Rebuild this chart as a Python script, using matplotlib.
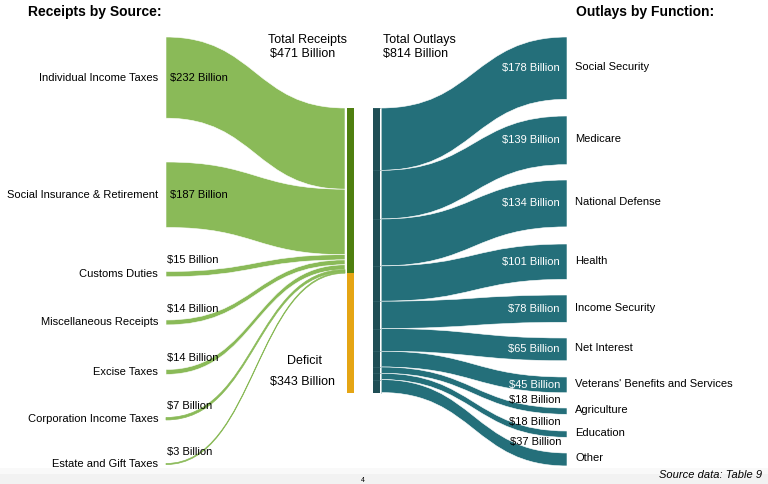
import matplotlib
matplotlib.use("Agg")
import matplotlib.pyplot as plt
from matplotlib.path import Path
from matplotlib.patches import PathPatch, Rectangle

plt.rcParams['font.family'] = ['Liberation Sans', 'DejaVu Sans']

# data (billions of dollars)
receipt_labels = ["Individual Income Taxes", "Social Insurance & Retirement", "Customs Duties",
                  "Miscellaneous Receipts", "Excise Taxes", "Corporation Income Taxes",
                  "Estate and Gift Taxes"]
receipt_values = [232, 187, 15, 14, 14, 7, 3]
outlay_labels = ["Social Security", "Medicare", "National Defense", "Health", "Income Security",
                 "Net Interest", "Veterans' Benefits and Services", "Agriculture", "Education",
                 "Other"]
outlay_values = [178, 139, 134, 101, 78, 65, 45, 18, 18, 37]
total_receipts = 471
total_outlays = 814
deficit = 343

# layout (pixels)
scale = 0.35
bar_top = 108
left_tops = [37, 162, 271.5, 320, 369.5, 417.5, 463.5]
right_tops = [37, 116, 180, 244, 295, 338, 377, 408, 431, 453]

green = '#8aba58'
green_dark = '#4f7f10'
orange = '#e5a514'
teal = '#246f7a'
teal_dark = '#1f4e55'


def flow(ax, x0, y0, x1, y1, h, color, edge='white', lw=0.4):
    xm = (x0 + x1) / 2
    verts = [(x0, y0), (xm, y0), (xm, y1), (x1, y1),
             (x1, y1 + h), (xm, y1 + h), (xm, y0 + h), (x0, y0 + h), (x0, y0)]
    codes = [Path.MOVETO, Path.CURVE4, Path.CURVE4, Path.CURVE4,
             Path.LINETO, Path.CURVE4, Path.CURVE4, Path.CURVE4, Path.CLOSEPOLY]
    ax.add_patch(PathPatch(Path(verts, codes), facecolor=color, edgecolor=edge, lw=lw))


fig = plt.figure(figsize=(7.68, 4.84), dpi=100)
ax = fig.add_axes([0, 0, 1, 1])
ax.set_xlim(0, 768)
ax.set_ylim(484, 0)
ax.axis('off')

# footer band
ax.axhspan(468, 474, color='#f9f9f9', lw=0)
ax.axhspan(474, 484, color='#f2f2f2', lw=0)

# receipts
y = bar_top
for lab, v, top in zip(receipt_labels, receipt_values, left_tops):
    h = v * scale
    if v < 10:
        flow(ax, 166, top, 345, y, h, green, edge=green, lw=0.5)
    else:
        flow(ax, 166, top, 345, y, h, green)
    y += h
    ax.text(158, top + h / 2, lab, ha='right', va='center', fontsize=8)
    if v > 100:
        ax.text(170, top + h / 2, f"${v} Billion", ha='left', va='center', fontsize=8)
    else:
        ax.text(167, top - 11, f"${v} Billion", ha='left', va='center', fontsize=8)

# center bars
ax.add_patch(Rectangle((347, bar_top), 6.5, total_receipts * scale, color=green_dark, lw=0))
ax.add_patch(Rectangle((347, bar_top + total_receipts * scale), 6.5, deficit * scale,
                       color=orange, lw=0))
ax.add_patch(Rectangle((373, bar_top), 7, total_outlays * scale, color=teal_dark, lw=0))
ax.plot([380.5, 380.5], [bar_top, bar_top + total_outlays * scale], color='#b8cccf', lw=0.6)

# outlays
y = bar_top
for i, (lab, v, top) in enumerate(zip(outlay_labels, outlay_values, right_tops)):
    h = v * scale
    flow(ax, 381, y, 567, top, h, teal)
    ax.plot([373, 380], [y, y], color='#3a6a70', lw=0.4)
    y += h
    ax.text(575, top + h / 2 - 1, lab, ha='left', va='center', fontsize=8)
    if i < 7:
        ax.text(560, top + h / 2, f"${v} Billion", ha='right', va='center', fontsize=8,
                color='white')
    else:
        ax.text(561, top - 8 - (i - 7) * 1.5, f"${v} Billion", ha='right', va='center',
                fontsize=8)

# titles and totals
ax.text(28, 12, "Receipts by Source:", fontsize=10, fontweight='bold', ha='left', va='center')
ax.text(576, 12, "Outlays by Function:", fontsize=10, fontweight='bold', ha='left', va='center')
ax.text(268, 40, "Total Receipts", fontsize=9, ha='left', va='center')
ax.text(270, 54, f"${total_receipts} Billion", fontsize=9, ha='left', va='center')
ax.text(383, 40, "Total Outlays", fontsize=9, ha='left', va='center')
ax.text(383, 54, f"${total_outlays} Billion", fontsize=9, ha='left', va='center')
ax.text(304, 361, "Deficit", fontsize=9, ha='center', va='center')
ax.text(302, 382, f"${deficit} Billion", fontsize=9, ha='center', va='center')

ax.text(762, 475, "Source data: Table 9", fontsize=8, style='italic', ha='right', va='center')
ax.text(363, 480, "4", fontsize=5, ha='center', va='center')

fig.savefig("out.png", dpi=100)
